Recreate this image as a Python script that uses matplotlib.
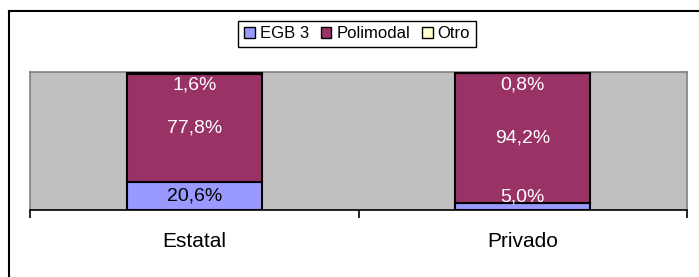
import matplotlib
matplotlib.use("Agg")
import matplotlib.pyplot as plt
from matplotlib.patches import Patch
from matplotlib.lines import Line2D

plt.rcParams['font.family'] = ['Liberation Sans', 'DejaVu Sans']

categories = ["Estatal", "Privado"]
series_names = ["EGB 3", "Polimodal", "Otro"]
egb3 = [20.6, 5.0]
polimodal = [77.8, 94.2]
otro = [1.6, 0.8]
series_values = [egb3, polimodal, otro]

colors = ["#9999FF", "#993366", "#FFFFCC"]
inside_text_colors = ["black", "white", "black"]

fig = plt.figure(figsize=(6.99, 2.77), dpi=100)
ax = fig.add_axes([30/699, 1 - 210/277, (687 - 30)/699, (210 - 72)/277])
ax.set_facecolor("#C0C0C0")

x = list(range(len(categories)))
bar_width = 0.41
bottoms = [0.0] * len(categories)
lo, hi = 9.4, 90.6
segments = []
for vals, col in zip(series_values, colors):
    ax.bar(x, vals, width=bar_width, bottom=bottoms, color=col,
           edgecolor="black", linewidth=1.5, zorder=3)
    segments.append(list(bottoms))
    bottoms = [b + v for b, v in zip(bottoms, vals)]

for si, vals in enumerate(series_values):
    for ci, v in enumerate(vals):
        b = segments[si][ci]
        yc = b + v / 2
        yl = min(max(yc, lo), hi)
        over = si
        for sj in range(len(series_values)):
            sb = segments[sj][ci]
            if sb <= yl <= sb + series_values[sj][ci]:
                over = sj
                break
        tc = inside_text_colors[si] if over == si else "white"
        label = f"{v:.1f}%".replace(".", ",")
        ax.text(x[ci], yl, label, ha="center", va="center", fontsize=14,
                color=tc, zorder=5)

ax.set_xlim(-0.5, len(categories) - 0.5)
ax.set_ylim(0, 100)
ax.set_yticks([])
ax.set_xticks(x)
ax.set_xticklabels(categories, fontsize=15)
ax.tick_params(axis="x", which="major", length=0, pad=16)
ax.set_xticks([i - 0.5 for i in range(len(categories) + 1)], minor=True)
ax.tick_params(axis="x", which="minor", length=6, width=1.2, color="black")

for s in ["left", "right", "top"]:
    ax.spines[s].set_color("#808080")
    ax.spines[s].set_linewidth(1.2)
ax.spines["bottom"].set_color("black")
ax.spines["bottom"].set_linewidth(1.2)

handles = [Patch(facecolor=c, edgecolor="black", linewidth=1.0, label=n)
           for c, n in zip(colors, series_names)]
leg = fig.legend(handles=handles, loc="center", bbox_to_anchor=(357/699, 1 - 34/277),
                 ncol=3, fontsize=12, frameon=True, fancybox=False,
                 edgecolor="black", framealpha=1, handlelength=0.65,
                 handleheight=0.65, handletextpad=0.3, columnspacing=0.7,
                 borderpad=0.35, borderaxespad=0)
leg.get_frame().set_linewidth(1.0)

fig.add_artist(Line2D([9/699, 9/699], [0, 1 - 11/277], transform=fig.transFigure,
                      color="black", linewidth=1.5))
fig.add_artist(Line2D([9/699, 1], [1 - 11/277, 1 - 11/277], transform=fig.transFigure,
                      color="black", linewidth=1.5))

fig.savefig("out.png", dpi=100, facecolor="white")
